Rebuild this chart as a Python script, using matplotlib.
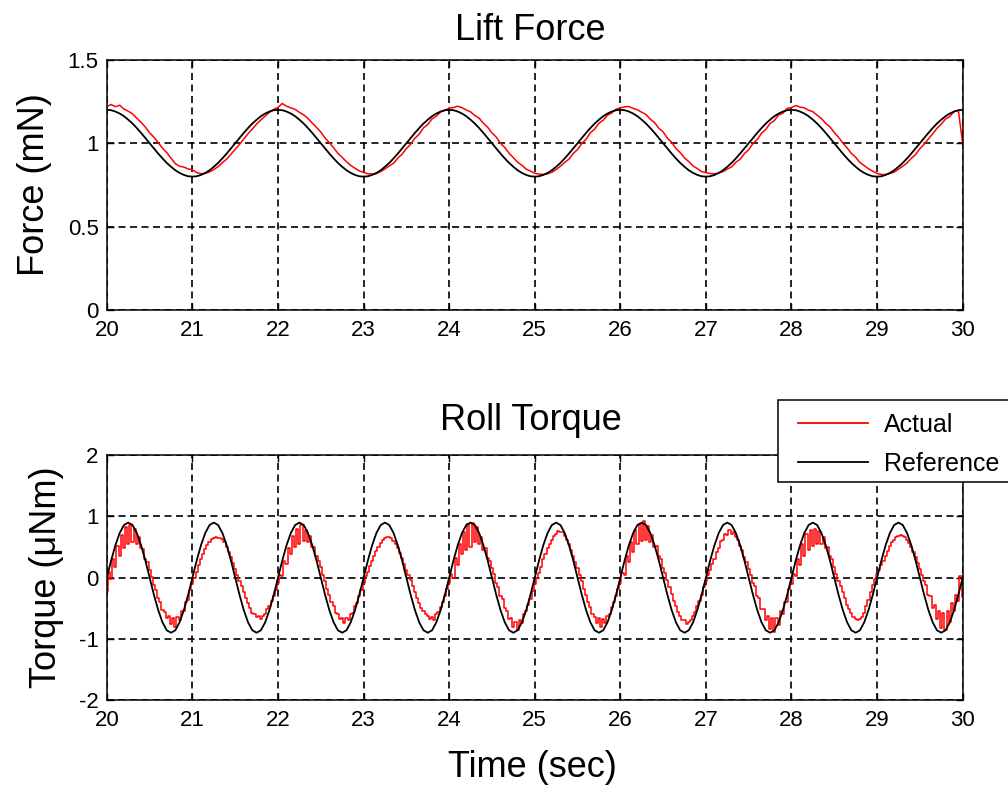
import numpy as np
import matplotlib
matplotlib.use("Agg")
import matplotlib.pyplot as plt
from matplotlib.patches import Rectangle

plt.rcParams['font.family'] = ['Liberation Sans', 'DejaVu Sans']

# ---------------- data ----------------
x_ticks = [20, 21, 22, 23, 24, 25, 26, 27, 28, 29, 30]

lift_yticks = [0, 0.5, 1, 1.5]
lift_yticklabels = ["0", "0.5", "1", "1.5"]
roll_yticks = [-2, -1, 0, 1, 2]
roll_yticklabels = ["-2", "-1", "0", "1", "2"]

# Lift force reference command (mN), sampled every 0.05 s from t = 20 s to 30 s
lift_reference = [
    1.200, 1.198, 1.190, 1.178, 1.162, 1.141, 1.118, 1.091, 1.062, 1.031,
    1.000, 0.969, 0.938, 0.909, 0.882, 0.859, 0.838, 0.822, 0.810, 0.802,
    0.800, 0.802, 0.810, 0.822, 0.838, 0.859, 0.882, 0.909, 0.938, 0.969,
    1.000, 1.031, 1.062, 1.091, 1.118, 1.141, 1.162, 1.178, 1.190, 1.198,
    1.200, 1.198, 1.190, 1.178, 1.162, 1.141, 1.118, 1.091, 1.062, 1.031,
    1.000, 0.969, 0.938, 0.909, 0.882, 0.859, 0.838, 0.822, 0.810, 0.802,
    0.800, 0.802, 0.810, 0.822, 0.838, 0.859, 0.882, 0.909, 0.938, 0.969,
    1.000, 1.031, 1.062, 1.091, 1.118, 1.141, 1.162, 1.178, 1.190, 1.198,
    1.200, 1.198, 1.190, 1.178, 1.162, 1.141, 1.118, 1.091, 1.062, 1.031,
    1.000, 0.969, 0.938, 0.909, 0.882, 0.859, 0.838, 0.822, 0.810, 0.802,
    0.800, 0.802, 0.810, 0.822, 0.838, 0.859, 0.882, 0.909, 0.938, 0.969,
    1.000, 1.031, 1.062, 1.091, 1.118, 1.141, 1.162, 1.178, 1.190, 1.198,
    1.200, 1.198, 1.190, 1.178, 1.162, 1.141, 1.118, 1.091, 1.062, 1.031,
    1.000, 0.969, 0.938, 0.909, 0.882, 0.859, 0.838, 0.822, 0.810, 0.802,
    0.800, 0.802, 0.810, 0.822, 0.838, 0.859, 0.882, 0.909, 0.938, 0.969,
    1.000, 1.031, 1.062, 1.091, 1.118, 1.141, 1.162, 1.178, 1.190, 1.198,
    1.200, 1.198, 1.190, 1.178, 1.162, 1.141, 1.118, 1.091, 1.062, 1.031,
    1.000, 0.969, 0.938, 0.909, 0.882, 0.859, 0.838, 0.822, 0.810, 0.802,
    0.800, 0.802, 0.810, 0.822, 0.838, 0.859, 0.882, 0.909, 0.938, 0.969,
    1.000, 1.031, 1.062, 1.091, 1.118, 1.141, 1.162, 1.178, 1.190, 1.198,
    1.200,
]

# Measured lift force (mN), sampled every 0.05 s
lift_actual = [
    1.221, 1.232, 1.219, 1.228, 1.205, 1.192, 1.176, 1.150, 1.125, 1.097,
    1.063, 1.036, 1.004, 0.970, 0.944, 0.910, 0.878, 0.862, 0.857, 0.846,
    0.841, 0.824, 0.817, 0.819, 0.828, 0.842, 0.860, 0.884, 0.905, 0.934,
    0.963, 0.993, 1.025, 1.057, 1.085, 1.115, 1.140, 1.163, 1.186, 1.203,
    1.215, 1.238, 1.222, 1.212, 1.203, 1.185, 1.170, 1.149, 1.121, 1.095,
    1.067, 1.031, 1.003, 0.973, 0.939, 0.915, 0.889, 0.867, 0.850, 0.834,
    0.825, 0.817, 0.816, 0.818, 0.830, 0.846, 0.864, 0.880, 0.911, 0.934,
    0.968, 0.994, 1.030, 1.055, 1.092, 1.112, 1.146, 1.162, 1.188, 1.197,
    1.210, 1.214, 1.222, 1.213, 1.199, 1.188, 1.166, 1.150, 1.120, 1.096,
    1.062, 1.037, 1.000, 0.974, 0.940, 0.914, 0.886, 0.868, 0.845, 0.833,
    0.820, 0.815, 0.813, 0.817, 0.826, 0.843, 0.862, 0.885, 0.905, 0.939,
    0.962, 0.999, 1.024, 1.063, 1.084, 1.120, 1.138, 1.168, 1.182, 1.204,
    1.212, 1.218, 1.220, 1.209, 1.200, 1.186, 1.172, 1.144, 1.124, 1.090,
    1.068, 1.030, 1.006, 0.968, 0.944, 0.912, 0.890, 0.864, 0.848, 0.830,
    0.824, 0.818, 0.817, 0.822, 0.830, 0.845, 0.858, 0.886, 0.904, 0.938,
    0.961, 0.998, 1.022, 1.060, 1.083, 1.118, 1.136, 1.170, 1.180, 1.209,
    1.214, 1.226, 1.217, 1.212, 1.198, 1.189, 1.168, 1.148, 1.119, 1.098,
    1.064, 1.036, 1.001, 0.972, 0.939, 0.916, 0.884, 0.866, 0.847, 0.832,
    0.819, 0.813, 0.812, 0.818, 0.827, 0.844, 0.862, 0.882, 0.910, 0.932,
    0.967, 0.994, 1.026, 1.056, 1.090, 1.114, 1.145, 1.160, 1.190, 1.197,
    1.000,
]

# Roll torque reference command (uNm), sampled every 0.05 s
roll_reference = [
    0.00, 0.28, 0.53, 0.73, 0.86, 0.90, 0.86, 0.73, 0.53, 0.28,
    0.00, -0.28, -0.53, -0.73, -0.86, -0.90, -0.86, -0.73, -0.53, -0.28,
    0.00, 0.28, 0.53, 0.73, 0.86, 0.90, 0.86, 0.73, 0.53, 0.28,
    0.00, -0.28, -0.53, -0.73, -0.86, -0.90, -0.86, -0.73, -0.53, -0.28,
    0.00, 0.28, 0.53, 0.73, 0.86, 0.90, 0.86, 0.73, 0.53, 0.28,
    0.00, -0.28, -0.53, -0.73, -0.86, -0.90, -0.86, -0.73, -0.53, -0.28,
    0.00, 0.28, 0.53, 0.73, 0.86, 0.90, 0.86, 0.73, 0.53, 0.28,
    0.00, -0.28, -0.53, -0.73, -0.86, -0.90, -0.86, -0.73, -0.53, -0.28,
    0.00, 0.28, 0.53, 0.73, 0.86, 0.90, 0.86, 0.73, 0.53, 0.28,
    0.00, -0.28, -0.53, -0.73, -0.86, -0.90, -0.86, -0.73, -0.53, -0.28,
    0.00, 0.28, 0.53, 0.73, 0.86, 0.90, 0.86, 0.73, 0.53, 0.28,
    0.00, -0.28, -0.53, -0.73, -0.86, -0.90, -0.86, -0.73, -0.53, -0.28,
    0.00, 0.28, 0.53, 0.73, 0.86, 0.90, 0.86, 0.73, 0.53, 0.28,
    0.00, -0.28, -0.53, -0.73, -0.86, -0.90, -0.86, -0.73, -0.53, -0.28,
    0.00, 0.28, 0.53, 0.73, 0.86, 0.90, 0.86, 0.73, 0.53, 0.28,
    0.00, -0.28, -0.53, -0.73, -0.86, -0.90, -0.86, -0.73, -0.53, -0.28,
    0.00, 0.28, 0.53, 0.73, 0.86, 0.90, 0.86, 0.73, 0.53, 0.28,
    0.00, -0.28, -0.53, -0.73, -0.86, -0.90, -0.86, -0.73, -0.53, -0.28,
    0.00, 0.28, 0.53, 0.73, 0.86, 0.90, 0.86, 0.73, 0.53, 0.28,
    0.00, -0.28, -0.53, -0.73, -0.86, -0.90, -0.86, -0.73, -0.53, -0.28,
    0.00,
]

# Measured roll torque (uNm), sampled every 0.025 s
roll_actual = [
    -0.22, 0.10, -0.02, 0.30, 0.18, 0.52, 0.35, 0.70, 0.48, 0.82,
    0.55, 0.86, 0.58, 0.80, 0.55, 0.66, 0.48, 0.47, 0.30, 0.25,
    0.12, 0.01, -0.12, -0.20, -0.34, -0.40, -0.53, -0.56, -0.66, -0.62,
    -0.76, -0.66, -0.80, -0.64, -0.70, -0.55, -0.55, -0.40, -0.36, -0.20,
    -0.11, 0.00, 0.10, 0.20, 0.30, 0.39, 0.47, 0.53, 0.59, 0.63,
    0.65, 0.66, 0.65, 0.65, 0.63, 0.58, 0.50, 0.42, 0.33, 0.24,
    0.14, 0.05, -0.05, -0.14, -0.24, -0.34, -0.42, -0.50, -0.57, -0.60,
    -0.65, -0.63, -0.68, -0.62, -0.60, -0.52, -0.47, -0.38, -0.30, -0.20,
    -0.08, 0.05, 0.02, 0.28, 0.22, 0.48, 0.38, 0.68, 0.50, 0.80,
    0.55, 0.86, 0.60, 0.78, 0.58, 0.68, 0.50, 0.50, 0.35, 0.28,
    0.18, 0.05, -0.06, -0.18, -0.28, -0.40, -0.47, -0.58, -0.60, -0.68,
    -0.66, -0.74, -0.66, -0.70, -0.60, -0.58, -0.46, -0.42, -0.30, -0.20,
    -0.08, 0.02, 0.10, 0.19, 0.28, 0.36, 0.44, 0.50, 0.56, 0.61,
    0.64, 0.66, 0.66, 0.64, 0.60, 0.55, 0.48, 0.40, 0.32, 0.22,
    0.13, 0.05, -0.04, -0.14, -0.24, -0.33, -0.42, -0.49, -0.55, -0.60,
    -0.62, -0.68, -0.64, -0.70, -0.60, -0.56, -0.48, -0.40, -0.30, -0.18,
    -0.08, 0.06, 0.00, 0.32, 0.20, 0.55, 0.38, 0.75, 0.45, 0.88,
    0.50, 0.90, 0.58, 0.82, 0.55, 0.66, 0.45, 0.48, 0.32, 0.28,
    0.15, 0.06, -0.08, -0.15, -0.30, -0.35, -0.50, -0.55, -0.68, -0.66,
    -0.80, -0.72, -0.85, -0.70, -0.74, -0.60, -0.55, -0.45, -0.35, -0.22,
    -0.10, 0.00, 0.08, 0.18, 0.30, 0.38, 0.48, 0.55, 0.62, 0.68,
    0.72, 0.76, 0.74, 0.74, 0.68, 0.62, 0.55, 0.45, 0.36, 0.25,
    0.15, 0.05, -0.05, -0.18, -0.28, -0.40, -0.48, -0.60, -0.64, -0.74,
    -0.66, -0.80, -0.68, -0.74, -0.62, -0.60, -0.48, -0.40, -0.30, -0.18,
    -0.08, 0.08, 0.05, 0.35, 0.25, 0.58, 0.42, 0.78, 0.55, 0.88,
    0.60, 0.92, 0.62, 0.85, 0.58, 0.70, 0.50, 0.52, 0.35, 0.30,
    0.15, 0.08, -0.04, -0.16, -0.26, -0.38, -0.46, -0.56, -0.62, -0.70,
    -0.70, -0.76, -0.72, -0.70, -0.62, -0.56, -0.46, -0.38, -0.28, -0.16,
    -0.06, 0.04, 0.12, 0.22, 0.30, 0.42, 0.48, 0.60, 0.62, 0.72,
    0.70, 0.78, 0.72, 0.74, 0.66, 0.62, 0.52, 0.45, 0.34, 0.25,
    0.14, 0.04, -0.08, -0.14, -0.30, -0.34, -0.52, -0.52, -0.70, -0.62,
    -0.84, -0.66, -0.88, -0.66, -0.78, -0.55, -0.60, -0.40, -0.40, -0.18,
    -0.10, 0.06, 0.02, 0.30, 0.20, 0.55, 0.35, 0.72, 0.45, 0.78,
    0.52, 0.80, 0.55, 0.76, 0.55, 0.66, 0.48, 0.50, 0.35, 0.30,
    0.18, 0.06, -0.05, -0.14, -0.24, -0.34, -0.44, -0.52, -0.58, -0.64,
    -0.68, -0.70, -0.68, -0.64, -0.58, -0.46, -0.36, -0.24, -0.12, -0.02,
    0.06, 0.12, 0.20, 0.28, 0.36, 0.44, 0.52, 0.58, 0.62, 0.66,
    0.68, 0.70, 0.68, 0.66, 0.62, 0.56, 0.50, 0.42, 0.34, 0.24,
    0.14, 0.05, -0.06, -0.12, -0.28, -0.30, -0.50, -0.45, -0.68, -0.55,
    -0.82, -0.58, -0.85, -0.55, -0.72, -0.42, -0.55, -0.28, -0.38, 0.02,
    -0.32,
]

# sample times (s)
t_lift_ref = np.linspace(20, 30, len(lift_reference))
t_lift_act = np.linspace(20, 30, len(lift_actual))
t_roll_ref = np.linspace(20, 30, len(roll_reference))
t_roll_act = np.linspace(20, 30, len(roll_actual))

# ---------------- figure ----------------
W, H = 1008, 787
fig = plt.figure(figsize=(W / 100, H / 100), dpi=100)
ax1 = fig.add_axes([0.106, 0.606, 0.849, 0.318])
ax2 = fig.add_axes([0.106, 0.1105, 0.849, 0.311])

grid_style = dict(color='black', linestyle=(0, (4.2, 2.7)), linewidth=1.2)


def style_axes(ax, yticks, yticklabels, ylim):
    ax.set_xlim(20, 30)
    ax.set_ylim(*ylim)
    ax.set_xticks(x_ticks)
    ax.set_xticklabels([str(v) for v in x_ticks])
    ax.set_yticks(yticks)
    ax.set_yticklabels(yticklabels)
    ax.set_axisbelow(True)
    ax.grid(True, **grid_style)
    ax.tick_params(direction='in', length=5, width=1.0, top=True, right=True,
                   labelsize=16, colors='black')
    ax.tick_params(axis='x', pad=7)
    ax.tick_params(axis='y', pad=6)
    for s in ax.spines.values():
        s.set_linewidth(1.1)
        s.set_color('black')


# Lift force
ax1.plot(t_lift_act, lift_actual, color='#ff0000', linewidth=1.1)
ax1.plot(t_lift_ref, lift_reference, color='black', linewidth=1.3)
style_axes(ax1, lift_yticks, lift_yticklabels, (0, 1.5))
ax1.set_title('Lift Force', fontsize=26, pad=14, x=0.495)
ax1.set_ylabel('Force (mN)', fontsize=26)
ax1.yaxis.set_label_coords(-0.064, 0.5)

# Roll torque
l_act, = ax2.plot(t_roll_act, roll_actual, color='#ff0000', linewidth=1.1,
                  drawstyle='steps-mid')
l_ref, = ax2.plot(t_roll_ref, roll_reference, color='black', linewidth=1.3)
style_axes(ax2, roll_yticks, roll_yticklabels, (-2, 2))
ax2.set_title('Roll Torque', fontsize=26, pad=18, x=0.495)
ax2.set_ylabel('Torque (\u03bcNm)', fontsize=26)
ax2.yaxis.set_label_coords(-0.050, 0.5)
ax2.set_xlabel('Time (sec)', fontsize=26)
ax2.xaxis.set_label_coords(0.497, -0.203)

# legend box, running off the right edge of the figure
box = Rectangle((778 / W, 1 - 482 / H), (1020 - 778) / W, 82 / H,
                transform=fig.transFigure, facecolor='white',
                edgecolor='black', linewidth=1.1, zorder=5)
fig.add_artist(box)

leg = fig.legend([l_act, l_ref], ['Actual', 'Reference'],
                 loc='upper left', bbox_to_anchor=(798 / W, 1 - 413 / H),
                 bbox_transform=fig.transFigure, fontsize=18,
                 frameon=False, borderpad=0, borderaxespad=0,
                 handlelength=2.8, handletextpad=0.64, labelspacing=0.6)
for line in leg.get_lines():
    line.set_linewidth(1.3)
leg.set_zorder(6)

fig.savefig('out.png', dpi=100, facecolor='white')
